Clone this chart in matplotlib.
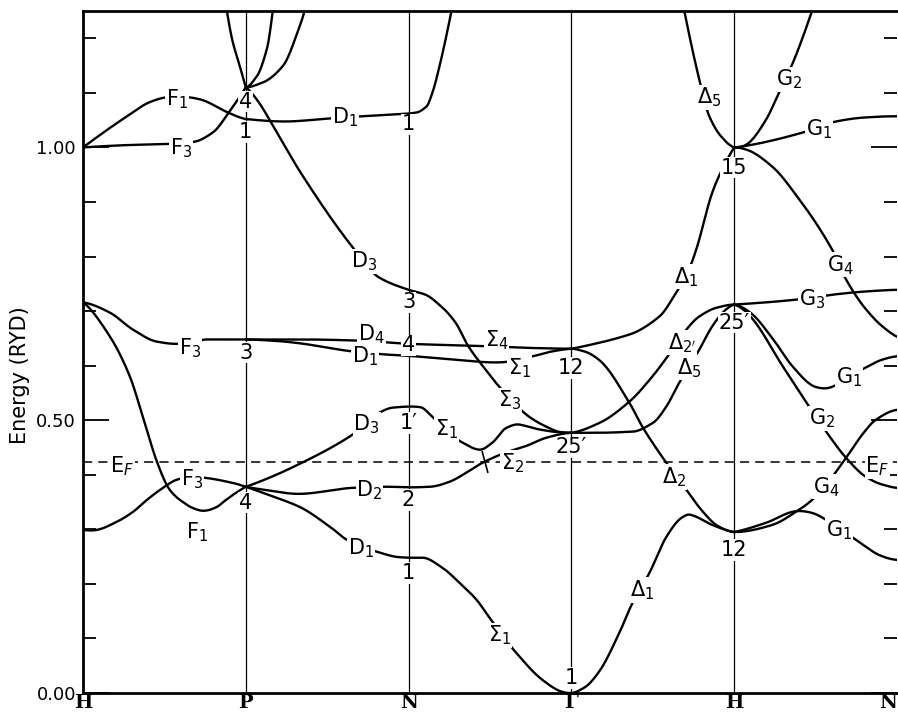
import numpy as np
import matplotlib
matplotlib.use("Agg")
import matplotlib.pyplot as plt
from matplotlib.markers import MarkerStyle
from matplotlib.transforms import Affine2D

plt.rcParams['mathtext.fontset'] = 'dejavusans'
plt.rcParams['font.family'] = ['DejaVu Sans']

# ---------------- data ----------------
kpoint_labels = ["H", "P", "N", "Γ", "H", "N"]
kpoint_pos = [0, 1, 2, 3, 4, 5]
E_fermi = 0.424
ytick_major = [0.0, 0.5, 1.0]
ytick_labels = ["0.00", "0.50", "1.00"]

# each band: (k values, energies in Ry)
F1_up = ([0, 0.27, 0.41, 0.52, 0.72, 0.89, 0.963, 1.0, 1.3, 1.6, 1.9, 2.0, 2.049, 2.11, 2.147, 2.19, 2.264],
         [1.0, 1.057, 1.083, 1.092, 1.088, 1.064, 1.055, 1.052, 1.048, 1.055, 1.06, 1.062, 1.064, 1.075, 1.101, 1.149, 1.251])
F3_up = ([0, 0.25, 0.5, 0.675, 0.8, 0.9, 1.0],
         [1.0, 1.004, 1.006, 1.01, 1.028, 1.066, 1.11])
HP_steep = ([0.883, 0.92, 0.963, 1.0],
            [1.251, 1.193, 1.149, 1.11])
PN_steep1 = ([1.0, 1.067, 1.129, 1.166],
             [1.11, 1.13, 1.18, 1.251])
PN_steep2 = ([1.0, 1.104, 1.227, 1.331, 1.362],
             [1.11, 1.119, 1.149, 1.222, 1.251])
D3_up = ([1.0, 1.067, 1.19, 1.33, 1.656, 1.822, 2.0, 2.104, 2.202, 2.288, 2.368, 2.472, 2.558, 2.742, 2.847, 2.92, 3.0],
         [1.11, 1.088, 1.028, 0.957, 0.817, 0.761, 0.739, 0.730, 0.708, 0.679, 0.635, 0.593, 0.561, 0.506, 0.488, 0.479, 0.477])
F3_mid = ([0, 0.166, 0.307, 0.454, 0.577, 0.66, 0.761, 1.0, 1.33, 1.68, 2.0, 2.44, 2.68, 3.0],
          [0.716, 0.697, 0.666, 0.644, 0.640, 0.642, 0.648, 0.648, 0.648, 0.646, 0.640, 0.636, 0.633, 0.631])
D1_mid = ([1.0, 1.2, 1.33, 1.656, 1.88, 2.0, 2.2, 2.44, 2.56, 2.761, 2.88, 3.0],
          [0.648, 0.645, 0.641, 0.626, 0.620, 0.618, 0.613, 0.607, 0.606, 0.617, 0.626, 0.631])
F1_low = ([0, 0.031, 0.166, 0.288, 0.368, 0.454, 0.534, 0.595, 0.675, 0.736, 0.822, 0.87, 0.935, 1.0],
          [0.716, 0.708, 0.653, 0.580, 0.506, 0.424, 0.372, 0.354, 0.339, 0.334, 0.341, 0.352, 0.366, 0.378])
F3_low = ([0, 0.086, 0.209, 0.307, 0.393, 0.472, 0.577, 0.66, 0.761, 0.92, 1.0],
          [0.299, 0.299, 0.314, 0.332, 0.354, 0.372, 0.391, 0.396, 0.394, 0.385, 0.378])
D3_low = ([1.0, 1.14, 1.331, 1.638, 1.822, 1.902, 2.0, 2.07, 2.147, 2.23, 2.331, 2.436, 2.515, 2.601, 2.681, 2.804, 2.92, 3.0],
          [0.378, 0.394, 0.42, 0.470, 0.514, 0.523, 0.525, 0.524, 0.506, 0.48, 0.459, 0.446, 0.459, 0.486, 0.492, 0.483, 0.478, 0.477])
D2 = ([1.0, 1.1, 1.331, 1.656, 1.88, 2.0, 2.13, 2.25, 2.356, 2.454, 2.6, 2.724, 2.847, 3.0],
      [0.378, 0.373, 0.365, 0.376, 0.378, 0.377, 0.378, 0.387, 0.404, 0.422, 0.441, 0.453, 0.468, 0.477])
D1_low = ([1.0, 1.15, 1.331, 1.52, 1.62, 1.804, 1.94, 2.0, 2.086, 2.21, 2.313, 2.417, 2.485, 2.57, 2.663, 2.822, 2.945, 3.0],
          [0.378, 0.362, 0.341, 0.304, 0.281, 0.259, 0.249, 0.248, 0.248, 0.229, 0.202, 0.171, 0.143, 0.108, 0.073, 0.024, 0.002, 0.0])
Dl1_low = ([3.0, 3.08, 3.172, 3.294, 3.375, 3.479, 3.583, 3.681, 3.724, 3.767, 3.865, 4.0],
           [0.0, 0.01, 0.04, 0.11, 0.165, 0.22, 0.286, 0.322, 0.327, 0.323, 0.308, 0.295])
Dl2 = ([3.0, 3.08, 3.172, 3.356, 3.436, 3.583, 3.70, 3.80, 3.90, 4.0],
       [0.631, 0.626, 0.61, 0.532, 0.488, 0.422, 0.375, 0.335, 0.306, 0.295])
Dl1_up = ([3.0, 3.172, 3.356, 3.54, 3.644, 3.72, 3.767, 3.865, 3.93, 4.0],
          [0.631, 0.642, 0.657, 0.69, 0.734, 0.775, 0.813, 0.917, 0.962, 1.0])
Dl2p = ([3.0, 3.172, 3.356, 3.497, 3.613, 3.706, 3.785, 3.89, 4.0],
        [0.477, 0.495, 0.534, 0.580, 0.626, 0.666, 0.69, 0.706, 0.712])
Dl5_mid = ([3.0, 3.172, 3.375, 3.5, 3.583, 3.663, 3.785, 3.865, 3.95, 4.0],
           [0.477, 0.477, 0.479, 0.495, 0.525, 0.569, 0.629, 0.672, 0.703, 0.712])
Dl5_up = ([3.693, 3.785, 3.847, 3.92, 3.975, 4.0],
          [1.251, 1.125, 1.057, 1.02, 1.004, 1.0])
G2_up = ([4.0, 4.074, 4.196, 4.276, 4.356, 4.479],
         [1.0, 1.005, 1.051, 1.101, 1.152, 1.251])
G1_up = ([4.0, 4.074, 4.442, 4.601, 4.81, 5.0],
         [1.0, 1.003, 1.029, 1.046, 1.055, 1.057])
G4_up = ([4.0, 4.074, 4.233, 4.399, 4.601, 4.687, 4.81, 4.91, 5.0],
         [1.0, 0.996, 0.965, 0.905, 0.813, 0.758, 0.703, 0.672, 0.653])
G3 = ([4.0, 4.196, 4.38, 4.601, 4.81, 5.0],
      [0.712, 0.716, 0.721, 0.730, 0.736, 0.739])
G1_mid = ([4.0, 4.1, 4.24, 4.36, 4.5, 4.6, 4.785, 4.91, 5.0],
          [0.712, 0.697, 0.648, 0.598, 0.561, 0.561, 0.593, 0.611, 0.617])
G2_mid = ([4.0, 4.1, 4.3, 4.46, 4.601, 4.687, 4.81, 4.91, 5.0],
          [0.712, 0.69, 0.598, 0.525, 0.464, 0.431, 0.396, 0.382, 0.376])
G1_low = ([4.0, 4.196, 4.356, 4.479, 4.583, 4.767, 4.89, 5.0],
          [0.295, 0.312, 0.332, 0.330, 0.314, 0.277, 0.253, 0.244])
G4_low = ([4.0, 4.233, 4.399, 4.479, 4.56, 4.687, 4.79, 4.871, 5.0],
          [0.295, 0.308, 0.336, 0.354, 0.38, 0.431, 0.475, 0.501, 0.519])

bands = [F1_up, F3_up, HP_steep, PN_steep1, PN_steep2, D3_up, F3_mid, D1_mid,
         F1_low, F3_low, D3_low, D2, D1_low, Dl1_low, Dl2, Dl1_up, Dl2p,
         Dl5_mid, Dl5_up, G2_up, G1_up, G4_up, G3, G1_mid, G2_mid, G1_low, G4_low]

# band labels (text, k, E)
band_labels = [
    (r"F$_1$", 0.577, 1.088), (r"F$_3$", 0.60, 0.998), ("4", 1.0, 1.084), ("1", 1.0, 1.028),
    (r"D$_1$", 1.607, 1.055), ("1", 2.0, 1.042), (r"D$_3$", 1.73, 0.791), ("3", 2.0, 0.716),
    (r"F$_3$", 0.656, 0.632), ("3", 1.0, 0.624), (r"D$_4$", 1.773, 0.658), ("4", 2.0, 0.637),
    (r"D$_1$", 1.73, 0.617), (r"$\Sigma_4$", 2.54, 0.646), (r"$\Sigma_1$", 2.68, 0.596),
    ("12", 3.0, 0.596), (r"$\Sigma_3$", 2.62, 0.536), (r"D$_3$", 1.742, 0.492), ("1′", 2.0, 0.495),
    (r"$\Sigma_1$", 2.233, 0.483), ("25′", 3.0, 0.450), (r"$\Sigma_2$", 2.64, 0.422),
    (r"D$_2$", 1.76, 0.372), ("2", 2.0, 0.354), (r"E$_F$", 0.24, 0.416), (r"E$_F$", 4.88, 0.416),
    (r"F$_3$", 0.669, 0.391), ("4", 1.0, 0.349), (r"F$_1$", 0.70, 0.294), (r"D$_1$", 1.71, 0.266),
    ("1", 2.0, 0.220), (r"$\Sigma_1$", 2.56, 0.106), ("1", 3.0, 0.028), (r"$\Delta_1$", 3.436, 0.189),
    ("12", 4.0, 0.262), (r"G$_1$", 4.644, 0.299), (r"G$_4$", 4.564, 0.378), (r"$\Delta_2$", 3.632, 0.396),
    (r"G$_2$", 4.54, 0.503), (r"$\Delta_5$", 3.724, 0.596), (r"$\Delta_{2'}$", 3.681, 0.642),
    ("25′", 4.0, 0.679), (r"G$_3$", 4.479, 0.721), (r"G$_1$", 4.706, 0.578), (r"G$_4$", 4.65, 0.785),
    (r"$\Delta_1$", 3.706, 0.763), ("15", 4.0, 0.963), (r"G$_1$", 4.52, 1.033),
    (r"G$_2$", 4.337, 1.125), (r"$\Delta_5$", 3.847, 1.092),
]


def makima(x, y, xn):
    x = np.asarray(x, float)
    y = np.asarray(y, float)
    n = len(x)
    h = np.diff(x)
    d = np.diff(y) / h
    if n == 2:
        return y[0] + d[0] * (xn - x[0])
    dl1 = 2 * d[0] - d[1]
    dl2 = 2 * dl1 - d[0]
    dr1 = 2 * d[-1] - d[-2]
    dr2 = 2 * dr1 - d[-1]
    M = np.concatenate([[dl2, dl1], d, [dr1, dr2]])
    t = np.zeros(n)
    for i in range(n):
        m1, m2, m3, m4 = M[i], M[i + 1], M[i + 2], M[i + 3]
        w1 = abs(m4 - m3) + abs(m4 + m3) / 2
        w2 = abs(m2 - m1) + abs(m2 + m1) / 2
        if w1 + w2 == 0:
            t[i] = 0.5 * (m2 + m3)
        else:
            t[i] = (w1 * m2 + w2 * m3) / (w1 + w2)
    idx = np.clip(np.searchsorted(x, xn) - 1, 0, n - 2)
    s = (xn - x[idx]) / h[idx]
    h00 = 2 * s**3 - 3 * s**2 + 1
    h10 = s**3 - 2 * s**2 + s
    h01 = -2 * s**3 + 3 * s**2
    h11 = s**3 - s**2
    return h00 * y[idx] + h10 * h[idx] * t[idx] + h01 * y[idx + 1] + h11 * h[idx] * t[idx + 1]


fig = plt.figure(figsize=(8.98, 7.18), dpi=100)
ax = fig.add_axes([83 / 898, 25 / 718, 814 / 898, 682 / 718])
ax.set_xlim(0, 5)
ax.set_ylim(0, 1.25)

for k in kpoint_pos[1:-1]:
    ax.axvline(k, color="black", lw=0.9, zorder=1)

ax.axhline(E_fermi, color="black", lw=1.1, ls=(0, (6, 4)), zorder=1)

for kk, ee in bands:
    xs = np.linspace(kk[0], kk[-1], 500)
    ys = makima(kk, ee, xs)
    ax.plot(xs, ys, color="black", lw=1.7, zorder=2, solid_capstyle="round")

# cross mark where Sigma_2 crosses the Fermi level
xs = np.linspace(D2[0][0], D2[0][-1], 2000)
ys = makima(D2[0], D2[1], xs)
i = np.where((ys[:-1] - E_fermi) * (ys[1:] - E_fermi) <= 0)[0][-1]
mk = MarkerStyle("|", transform=Affine2D().rotate_deg(18))
ax.plot([xs[i]], [E_fermi], marker=mk, markersize=16, mew=1.2, color="black", zorder=3)

for s, kx, ey in band_labels:
    ax.text(kx, ey, s, ha="center", va="center", fontsize=15, zorder=6,
            bbox=dict(fc="white", ec="none", pad=0.6))

ax.set_yticks(ytick_major)
ax.set_yticklabels(ytick_labels, fontsize=13)
ax.set_yticks(np.arange(0, 1.26, 0.1), minor=True)
ax.tick_params(axis="y", which="major", direction="in", length=19, width=1.3,
               left=True, right=True, pad=5)
ax.tick_params(axis="y", which="minor", direction="in", length=9.5, width=1.3,
               left=True, right=True)
ax.set_xticks(kpoint_pos)
ax.set_xticklabels(kpoint_labels, fontsize=14, fontweight="bold", family="DejaVu Serif")
ax.tick_params(axis="x", length=0, pad=1)
ax.get_xticklabels()[-1].set_horizontalalignment("right")

for side in ["left", "bottom", "top"]:
    ax.spines[side].set_linewidth(2.0)
ax.spines["right"].set_visible(False)

fig.text(20 / 898, 1 - 375 / 718, "Energy (RYD)", rotation=90, ha="center", va="center", fontsize=15)

fig.savefig("out.png", dpi=100)
